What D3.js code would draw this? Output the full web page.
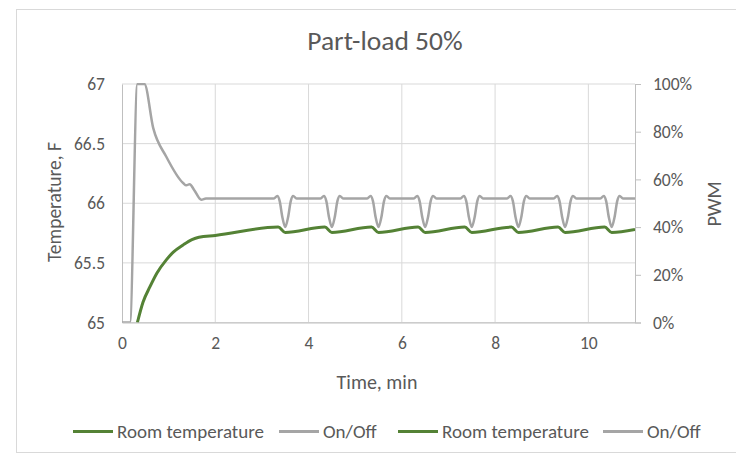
<!DOCTYPE html>
<html><head><meta charset="utf-8">
<script src="https://cdn.jsdelivr.net/npm/d3@7"></script>
<style>
html,body{margin:0;padding:0;background:#fff;}
text{font-family:Carlito,Calibri,Lato,sans-serif;fill:#595959;}
</style></head>
<body><svg id="c" width="736" height="456"></svg>
<script>
const title = "Part-load 50%";
const xTicks = [0, 2, 4, 6, 8, 10];
const yLeftTicks = [65, 65.5, 66, 66.5, 67];
const yRightTicks = [0, 0.2, 0.4, 0.6, 0.8, 1.0];
const seriesNames = ["Room temperature", "On/Off", "Room temperature", "On/Off"];

// Room temperature (F) vs time (min)
const tempTime = [0.33,0.45,0.6,0.75,0.95,1.1,1.31,1.5,1.65,2.0,
  3.35,3.5,4.35,4.5,5.35,5.5,6.35,6.5,7.35,7.5,8.35,8.5,9.35,9.5,10.35,10.5,11.0];
const tempVal = [65.0,65.17,65.30,65.415,65.525,65.59,65.65,65.695,65.715,65.73,
  65.80,65.755,65.80,65.755,65.80,65.755,65.80,65.755,65.80,65.755,65.80,65.755,65.80,65.755,65.80,65.755,65.78];

// On/Off PWM (fraction) vs time (min)
const pwmTime = [0,0.17,0.33,0.48,0.67,0.95,1.31,1.38,1.45,1.55,1.7,1.8,
  3.25,3.33,3.38,3.44,3.5,3.56,3.62,3.67,3.75,
  4.25,4.33,4.38,4.44,4.5,4.56,4.62,4.67,4.75,
  5.25,5.33,5.38,5.44,5.5,5.56,5.62,5.67,5.75,
  6.25,6.33,6.38,6.44,6.5,6.56,6.62,6.67,6.75,
  7.25,7.33,7.38,7.44,7.5,7.56,7.62,7.67,7.75,
  8.25,8.33,8.38,8.44,8.5,8.56,8.62,8.67,8.75,
  9.25,9.33,9.38,9.44,9.5,9.56,9.62,9.67,9.75,
  10.25,10.33,10.38,10.44,10.5,10.56,10.62,10.67,10.75,
  11.0];
const pwmVal = [0,0,1.0,1.0,0.815,0.695,0.585,0.575,0.58,0.555,0.515,0.52,
  0.52,0.53,0.51,0.44,0.40,0.44,0.51,0.53,0.52,
  0.52,0.53,0.51,0.44,0.40,0.44,0.51,0.53,0.52,
  0.52,0.53,0.51,0.44,0.40,0.44,0.51,0.53,0.52,
  0.52,0.53,0.51,0.44,0.40,0.44,0.51,0.53,0.52,
  0.52,0.53,0.51,0.44,0.40,0.44,0.51,0.53,0.52,
  0.52,0.53,0.51,0.44,0.40,0.44,0.51,0.53,0.52,
  0.52,0.53,0.51,0.44,0.40,0.44,0.51,0.53,0.52,
  0.52,0.53,0.51,0.44,0.40,0.44,0.51,0.53,0.52,
  0.52];

const GREEN = "#548235", GRAY = "#a5a5a5", GRID = "#d9d9d9", AXIS = "#bfbfbf";
const svg = d3.select("#c");
const m = {l:122, r:635, t:84, b:322.5};
const x = d3.scaleLinear().domain([0,11]).range([m.l, m.r]);
const yL = d3.scaleLinear().domain([65,67]).range([m.b, m.t]);
const yR = d3.scaleLinear().domain([0,1]).range([m.b, m.t]);

// chart border
svg.append("rect").attr("x",16.5).attr("y",9.5).attr("width",740).attr("height",443)
  .attr("fill","#fff").attr("stroke","#d9d9d9");

svg.append("text").attr("x",385).attr("y",50).attr("text-anchor","middle")
  .style("font-size","27.5px").text(title);

// gridlines
svg.append("g").selectAll("line").data(yLeftTicks).join("line")
  .attr("x1",m.l).attr("x2",m.r).attr("y1",d=>yL(d)).attr("y2",d=>yL(d))
  .attr("stroke",GRID).attr("stroke-width",1);
svg.append("g").selectAll("line").data(xTicks.filter(d=>d>0)).join("line")
  .attr("y1",m.t).attr("y2",m.b).attr("x1",d=>x(d)).attr("x2",d=>x(d))
  .attr("stroke",GRID).attr("stroke-width",1);

// axes
const gx = svg.append("g").attr("transform",`translate(0,${m.b})`)
  .call(d3.axisBottom(x).tickValues(xTicks).tickSize(0).tickPadding(14));
gx.select(".domain").attr("stroke",AXIS);
const gl = svg.append("g").attr("transform",`translate(${m.l},0)`)
  .call(d3.axisLeft(yL).tickValues(yLeftTicks).tickSize(0).tickPadding(17).tickFormat(d3.format("")));
gl.select(".domain").attr("stroke",AXIS);
const gr = svg.append("g").attr("transform",`translate(${m.r},0)`)
  .call(d3.axisRight(yR).tickValues(yRightTicks).tickSize(6).tickPadding(12).tickFormat(d3.format(".0%")));
gr.select(".domain").attr("stroke",AXIS);
gr.selectAll(".tick line").attr("stroke",AXIS);
svg.selectAll(".tick text").style("font-size","17.5px").attr("fill","#595959")
  .style("font-family","Carlito,Calibri,Lato,sans-serif");

// axis titles
svg.append("text").attr("x",377).attr("y",389).attr("text-anchor","middle")
  .style("font-size","20px").text("Time, min");
svg.append("text").attr("transform","translate(61,202) rotate(-90)").attr("text-anchor","middle")
  .style("font-size","19.5px").text("Temperature, F");
svg.append("text").attr("transform","translate(721,204) rotate(-90)").attr("text-anchor","middle")
  .style("font-size","20px").text("PWM");

// clip
svg.append("clipPath").attr("id","plot").append("rect")
  .attr("x",m.l).attr("y",m.t-1).attr("width",m.r-m.l).attr("height",m.b-m.t+1);

const grayLine = d3.line().x(d=>x(d[0])).y(d=>yR(d[1])).curve(d3.curveMonotoneX);
const greenLine = d3.line().x(d=>x(d[0])).y(d=>yL(d[1])).curve(d3.curveMonotoneX);
const pwm = pwmTime.map((t,i)=>[t,pwmVal[i]]);
const temp = tempTime.map((t,i)=>[t,tempVal[i]]);

svg.append("path").attr("clip-path","url(#plot)").attr("d",grayLine(pwm))
  .attr("fill","none").attr("stroke",GRAY).attr("stroke-width",2.5).attr("stroke-linejoin","round");
svg.append("path").attr("clip-path","url(#plot)").attr("d",greenLine(temp))
  .attr("fill","none").attr("stroke",GREEN).attr("stroke-width",3).attr("stroke-linejoin","round");

// legend
const legendX = [73, 279, 398, 603];
const legendColors = [GREEN, GRAY, GREEN, GRAY];
const lg = svg.append("g");
seriesNames.forEach((name,i)=>{
  lg.append("line").attr("x1",legendX[i]).attr("x2",legendX[i]+40).attr("y1",431.5).attr("y2",431.5)
    .attr("stroke",legendColors[i]).attr("stroke-width",3);
  lg.append("text").attr("x",legendX[i]+44).attr("y",437.5).style("font-size","19px").text(name);
});
</script></body></html>
